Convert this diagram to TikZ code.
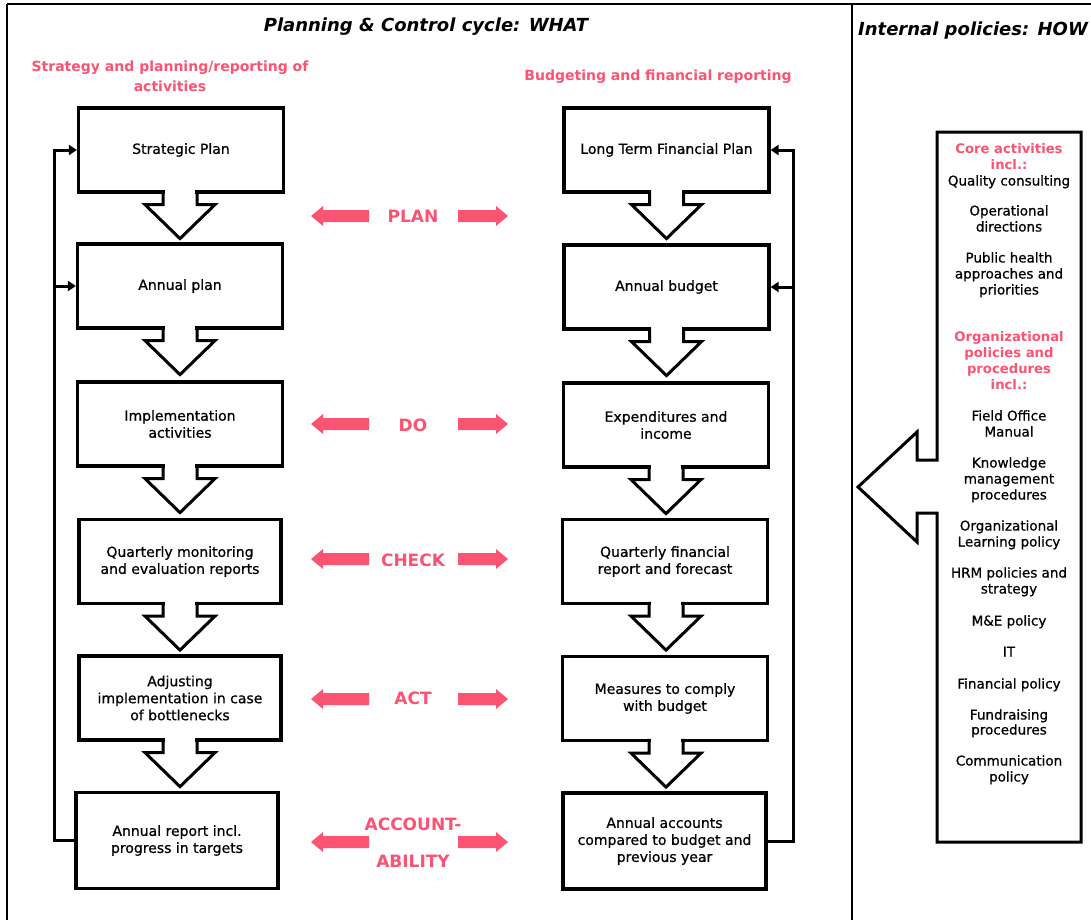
\documentclass[tikz,border=0pt]{standalone}
\usepackage{fontspec}
\setmainfont{DejaVu Sans}
\newfontfamily\heavyfont[FakeBold=0.7]{DejaVu Sans}
\usetikzlibrary{arrows.meta,calc}
\definecolor{pinkc}{RGB}{250,84,114}
\begin{document}
\begin{tikzpicture}[x=1pt,y=-1pt,
  box/.style={draw, line width=3.2pt, minimum width=205pt, minimum height=84pt, align=center, inner sep=2pt, font=\heavyfont\fontsize{14}{17}\selectfont, line join=miter},
  fbarrow/.style={line width=3pt, line join=miter, -{Triangle[length=8pt,width=10pt]}},
  blk/.style={line width=3pt, line join=miter},
  frame/.style={line width=1.8pt},
  lbl/.style={text=pinkc, font=\fontsize{17}{19}\bfseries\selectfont, inner sep=0pt},
  head/.style={text=pinkc, font=\fontsize{14}{20}\bfseries\selectfont, align=center},
  ttl/.style={font=\fontsize{18}{20}\bfseries\itshape\selectfont},
  rpink/.style={text=pinkc, font=\fontsize{13.2}{16}\bfseries\selectfont, text height=10pt, text depth=3pt, inner sep=0pt},
  rblack/.style={font=\heavyfont\fontsize{13.5}{16}\selectfont, text height=10pt, text depth=3pt, inner sep=0pt},
  blockdown/.pic={
    \fill[white] (-15.4,-4) rectangle (15.4,11);
    \draw[blk] (-17,-3.2) -- (-17,11) -- (-35,11) -- (0,45) -- (35,11) -- (17,11) -- (17,-3.2);
  },
  pinkpair/.pic={
    \fill[pinkc] (-102,0) -- (-90,-10) -- (-90,-6) -- (-44,-6) -- (-44,6) -- (-90,6) -- (-90,10) -- cycle;
    \fill[pinkc] (95,0) -- (83,-10) -- (83,-6) -- (45,-6) -- (45,6) -- (83,6) -- (83,10) -- cycle;
  }
]
\useasboundingbox (0,0) rectangle (1091,919);
\fill[white] (0,0) rectangle (1091,919);

% frame
\draw[frame] (7,4) -- (1100,4);
\draw[frame] (7,4) -- (7,925);
\draw[frame] (852,4) -- (852,925);

% titles
\node[ttl] (t1) at (426,27) {Planning \& Control cycle: WHAT};
\node[ttl] (t2) at (973,31) {Internal policies: HOW};
\node[head] (h1) at (170,76) {Strategy and planning/reporting of\\activities};
\node[head] (h2) at (658,77) {Budgeting and financial reporting};

% left column
\node[box] (L1) at (181,150) {Strategic Plan};
\node[box] (L2) at (180,286) {Annual plan};
\node[box] (L3) at (180,424) {Implementation\\activities};
\node[box, minimum width=202pt] (L4) at (180,561.5) {Quarterly monitoring\\and evaluation reports};
\node[box, minimum width=202pt] (L5) at (180,698) {Adjusting\\implementation in case\\of bottlenecks};
\node[box, minimum width=202pt, minimum height=96pt] (L6) at (177,840.5) {Annual report incl.\\progress in targets};

% right column
\node[box] (R1) at (666.5,150) {Long Term Financial Plan};
\node[box] (R2) at (666.5,287) {Annual budget};
\node[box] (R3) at (666,425) {Expenditures and\\income};
\node[box] (R4) at (665,561.5) {Quarterly financial\\report and forecast};
\node[box] (R5) at (665,698.5) {Measures to comply\\with budget};
\node[box, minimum width=203pt, minimum height=96pt] (R6) at (664.5,841) {Annual accounts\\compared to budget and\\previous year};

% block arrows between boxes
\pic at ($(L1.south)+(-1,0)$) {blockdown};
\pic at (L2.south) {blockdown};
\pic at (L3.south) {blockdown};
\pic at (L4.south) {blockdown};
\pic at (L5.south) {blockdown};
\pic at (R1.south) {blockdown};
\pic at (R2.south) {blockdown};
\pic at (R3.south) {blockdown};
\pic at ($(R4.south)+(1,0)$) {blockdown};
\pic at ($(R5.south)+(1,0)$) {blockdown};

% feedback loops
\coordinate (fbL) at (54,0);
\coordinate (fbR) at (793,0);
\draw[fbarrow] (L6.west) -- (L6.west -| fbL) |- (L1.west);
\draw[fbarrow] (fbL |- L2.west) -- (L2.west);
\draw[fbarrow] (R6.east) -- (R6.east -| fbR) |- (R1.east);
\draw[fbarrow] (fbR |- R2.east) -- (R2.east);

% middle labels and pink arrows
\node[lbl] (plan) at (413,216) {PLAN};
\node[lbl] (do) at (413,425) {DO};
\node[lbl] (check) at (413,560) {CHECK};
\node[lbl] (act) at (413,698) {ACT};
\node[lbl] (acc1) at (413,824) {ACCOUNT-};
\node[lbl] (acc2) at (413,861) {ABILITY};
\coordinate (accmid) at (413,842);
\pic at (413,216) {pinkpair};
\pic at (413,424) {pinkpair};
\pic at (413,559) {pinkpair};
\pic at (413,699) {pinkpair};
\pic at (accmid) {pinkpair};

% internal policies box with arrow
\draw[blk] (937,460) -- (937,132) -- (1081,132) -- (1081,842) -- (937,842) -- (937,513)
  -- (917,513) -- (917,542) -- (858,487) -- (917,432) -- (917,460) -- cycle;

\foreach \yy/\tx [count=\i] in {150/Core activities, 166/incl.:, 338/Organizational, 354/policies and, 370/procedures, 386/incl.:}
  \node[rpink] (pk\i) at (1009,\yy) {\tx};
\foreach \yy/\tx [count=\i] in {182/Quality consulting, 212/Operational, 228/directions, 259/Public health, 275/approaches and, 291/priorities, 417/Field Office, 433/Manual, 464/Knowledge, 480/management, 496/procedures, 527/Organizational, 543/Learning policy, 574/HRM policies and, 590/strategy, 622/M\&E policy, 653/IT, 685/Financial policy, 716/Fundraising, 731/procedures, 762/Communication, 778/policy}
  \node[rblack] (bk\i) at (1009,\yy) {\tx};
\end{tikzpicture}
\end{document}
